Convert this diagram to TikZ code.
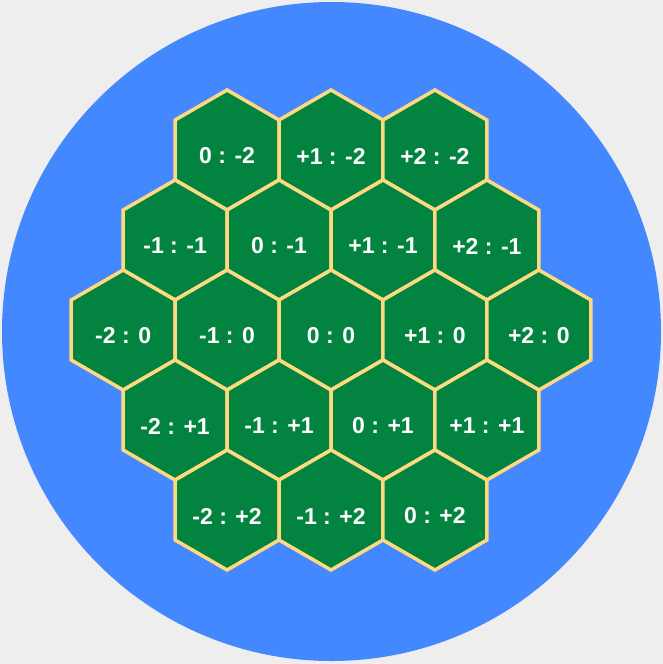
\documentclass[tikz,border=0pt]{standalone}
\usepackage{fontspec}
\setmainfont{Liberation Sans}
\definecolor{bgcol}{RGB}{238,238,238}
\definecolor{seacol}{RGB}{68,136,255}
\definecolor{landcol}{RGB}{2,132,64}
\definecolor{edgecol}{RGB}{255,217,128}
\tikzset{
  hexcell/.style={fill=landcol, draw=edgecol, line width=3.5pt, line join=miter},
  hexlabel/.style={text=white, font=\bfseries\fontsize{23}{27}\selectfont, inner sep=0pt}
}
\begin{document}
\begin{tikzpicture}[x=1pt,y=-1pt]
\useasboundingbox (0,0) rectangle (663,664);
\fill[bgcol] (0,0) rectangle (663,664);
\fill[seacol] (331.5,331.5) circle[radius=329.5];
\foreach \q/\r/\lab [count=\i] in {
  0/-2/{0 : -2}, 1/-2/{+1 : -2}, 2/-2/{+2 : -2},
  -1/-1/{-1 : -1}, 0/-1/{0 : -1}, 1/-1/{+1 : -1}, 2/-1/{+2 : -1},
  -2/0/{-2 : 0}, -1/0/{-1 : 0}, 0/0/{0 : 0}, 1/0/{+1 : 0}, 2/0/{+2 : 0},
  -2/1/{-2 : +1}, -1/1/{-1 : +1}, 0/1/{0 : +1}, 1/1/{+1 : +1},
  -2/2/{-2 : +2}, -1/2/{-1 : +2}, 0/2/{0 : +2}} {
  \coordinate (c\i) at ({331+103.923*(\q+\r/2)},{330+90*\r});
  \draw[hexcell] (c\i) +(90:60) -- +(30:60) -- +(-30:60) -- +(-90:60) -- +(-150:60) -- +(150:60) -- cycle;
  \node[hexlabel] (h\i) at ([yshift=-6pt]c\i) {\lab};
}
\end{tikzpicture}
\end{document}
